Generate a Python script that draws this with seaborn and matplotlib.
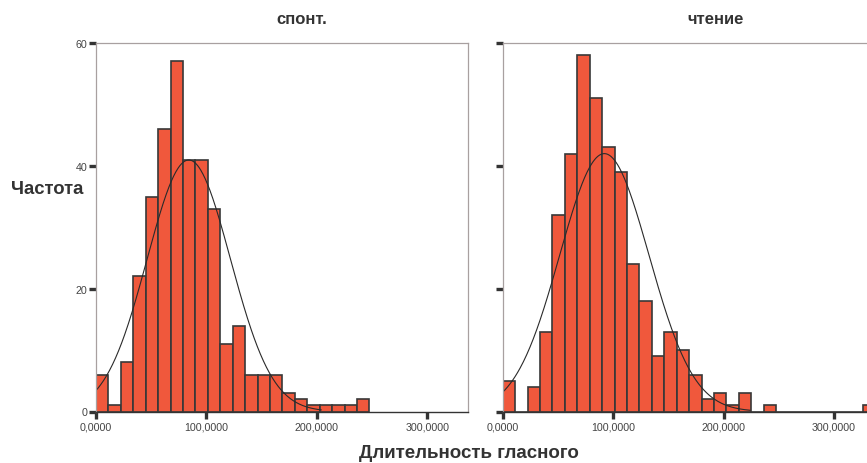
import numpy as np
import pandas as pd
import matplotlib
matplotlib.use("Agg")
import matplotlib.pyplot as plt
import seaborn as sns

# ---- data ----
bin_width = 11250
spont_counts = [6, 1, 8, 22, 35, 46, 57, 41, 41, 33, 11, 14, 6, 6, 6, 3, 2, 1, 1, 1, 1, 2]
read_counts = [5, 0, 4, 13, 32, 42, 58, 51, 43, 39, 24, 18, 9, 13, 10, 6, 2, 3, 1, 3, 0, 1,
               0, 0, 0, 0, 0, 0, 0, 1]
spont_mean, spont_sd, spont_curve_end = 84000, 37700, 204000
read_mean, read_sd, read_curve_end = 92000, 40400, 224000
panel_titles = ["спонт.", "чтение"]
x_ticks = [0, 100000, 200000, 300000]
x_ticklabels = ["0,0000", "100,0000", "200,0000", "300,0000"]
y_ticks = [0, 20, 40, 60]
y_ticklabels = ["0", "20", "40", "60"]
y_label = "Частота"
x_label = "Длительность гласного"

sns.set_style("white")
plt.rcParams["font.family"] = ["Liberation Sans", "DejaVu Sans"]

W, H = 867, 464
fig = plt.figure(figsize=(W / 100, H / 100), dpi=100)

def fx(px):
    return px / W

def fy(py):
    return 1 - py / H

ax_left_px = [96, 502.7]
ax_w_px = 372.3
ax_top_px, ax_bot_px = 44, 412.5

bar_color = "#F0583C"
edge_color = "#383838"

panels = [
    (spont_counts, spont_mean, spont_sd, spont_curve_end),
    (read_counts, read_mean, read_sd, read_curve_end),
]

for i, (counts, mu, sd, cend) in enumerate(panels):
    ax = fig.add_axes([fx(ax_left_px[i]), fy(ax_bot_px), fx(ax_w_px),
                       (ax_bot_px - ax_top_px) / H])
    edges = [k * bin_width for k in range(len(counts) + 1)]
    centers = [(edges[k] + edges[k + 1]) / 2 for k in range(len(counts))]
    df = pd.DataFrame({"x": centers, "w": counts})
    sns.histplot(data=df, x="x", weights="w", bins=edges, ax=ax,
                 color=bar_color, edgecolor=edge_color, linewidth=1.2,
                 alpha=1.0, legend=False)
    n = sum(counts)
    xs = np.linspace(max(0, mu - 3.3 * sd), cend, 300)
    ys = n * bin_width * np.exp(-0.5 * ((xs - mu) / sd) ** 2) / (sd * np.sqrt(2 * np.pi))
    sns.lineplot(x=xs, y=ys, ax=ax, color="#2a2a2a", linewidth=0.8)

    ax.set_xlim(0, 337000)
    ax.set_ylim(0, 60)
    ax.set_xticks(x_ticks)
    ax.set_xticklabels(x_ticklabels)
    ax.set_yticks(y_ticks)
    if i == 0:
        ax.set_yticklabels(y_ticklabels)
    else:
        ax.set_yticklabels([])
    ax.set_xlabel("")
    ax.set_ylabel("")
    ax.tick_params(bottom=True, left=True, direction="out", length=5, width=2.4,
                   color="#333333", labelsize=7.7, labelcolor="#444444", pad=2)
    ax.tick_params(axis="y", pad=1)
    for s in ["left", "top", "right"]:
        ax.spines[s].set_color("#a8a0a0")
        ax.spines[s].set_linewidth(0.9)
    ax.spines["bottom"].set_color("#333333")
    ax.spines["bottom"].set_linewidth(1.0)
    ax.grid(False)

fig.text(fx(302), fy(20), panel_titles[0], ha="center", va="center",
         fontsize=12, fontweight="bold", color="#333333")
fig.text(fx(716), fy(20), panel_titles[1], ha="center", va="center",
         fontsize=12, fontweight="bold", color="#333333")
fig.text(fx(47.5), fy(190), y_label, ha="center", va="center",
         fontsize=13.3, fontweight="bold", color="#333333")
fig.text(fx(469), fy(454), x_label, ha="center", va="center",
         fontsize=13.5, fontweight="bold", color="#333333")

fig.savefig("out.png", dpi=100)
